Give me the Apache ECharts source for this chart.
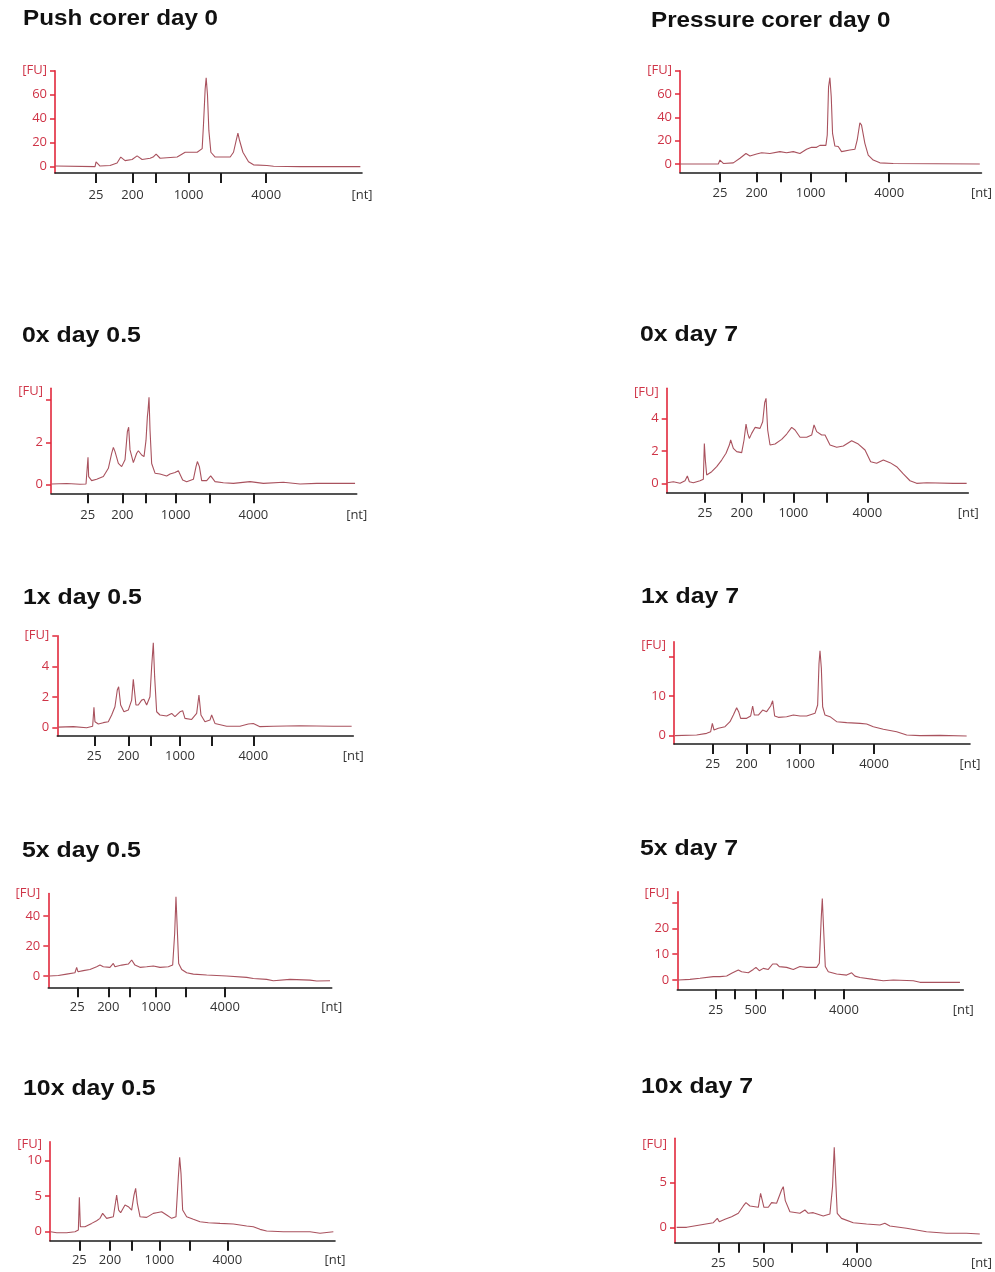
<!DOCTYPE html>
<html>
<head>
<meta charset="utf-8">
<script src="https://cdn.jsdelivr.net/npm/echarts@6/dist/echarts.min.js"></script>
<style>
html, body { margin: 0; padding: 0; background: #ffffff; }
#chart { width: 995px; height: 1272px; }
</style>
</head>
<body>
<div id="chart"></div>
<script>
// Electropherograms (Bioanalyzer-style): fluorescence [FU] against migration time (s),
// with the RNA ladder sizes (nt) marked on the time axis.

const panelTitles = [
  'Push corer day 0', 'Pressure corer day 0',
  '0x day 0.5', '0x day 7',
  '1x day 0.5', '1x day 7',
  '5x day 0.5', '5x day 7',
  '10x day 0.5', '10x day 7'
];

// Ladder fragment sizes (nt) and which of them carry a printed label
const ladderNt = [25, 200, 500, 1000, 2000, 4000];
const ladderShownStd = [25, 200, 1000, 4000];
const ladderShownAlt = [25, 500, 4000];

// Migration time (s) of each ladder fragment, per run
const ladderPushDay0     = [28.2, 35.47, 40.13, 46.67, 53.2, 62.2];
const ladderPressureDay0 = [28.0, 35.33, 40.2, 46.13, 53.2, 61.87];
const ladder0xDay05      = [27.33, 34.27, 39.0, 44.93, 51.8, 60.47];
const ladder0xDay7       = [27.67, 35.0, 39.33, 45.33, 52.0, 60.13];
const ladder1xDay05      = [27.4, 34.2, 38.67, 44.53, 50.87, 59.2];
const ladder1xDay7       = [27.73, 34.53, 39.2, 45.2, 51.67, 60.0];
const ladder5xDay05      = [25.8, 32.0, 36.2, 41.53, 47.53, 55.33];
const ladder5xDay7       = [27.67, 31.4, 35.67, 41.0, 47.53, 53.33];
const ladder10xDay05     = [25.87, 32.0, 36.33, 41.87, 47.87, 55.47];
const ladder10xDay7      = [28.67, 32.67, 37.67, 43.33, 50.33, 56.47];

// FU axis ticks and labelled values per run
const yTicks = [
  [0, 20, 40, 60, 80], [0, 20, 40, 60, 80],
  [0, 2, 4], [0, 2, 4],
  [0, 2, 4, 6], [0, 10, 20],
  [0, 20, 40], [0, 10, 20, 30],
  [0, 5, 10], [0, 5]
];
const yLabelled = [
  [0, 20, 40, 60], [0, 20, 40, 60],
  [0, 2], [0, 2, 4],
  [0, 2, 4], [0, 10],
  [0, 20, 40], [0, 10, 20],
  [0, 5, 10], [0, 5]
];
// Height on the FU axis where the unit tag "[FU]" sits
const fuTagAt = [80, 80, 4.43, 5.66, 6, 22.9, 55, 33.6, 12.35, 9.3];

// Traces: [time (s), fluorescence (FU)]
const tracePushDay0 = [
  [20, 0.5], [28.0, 0], [28.2, 4], [29.0, 0.5], [31.0, 1], [32.4, 3], [33.14, 8], [34.0, 5],
  [35.4, 6], [36.4, 9], [37.4, 6], [39.0, 7], [39.6, 8], [40.2, 10.5], [41.0, 7], [44.4, 8],
  [45.0, 9.5], [46.0, 12], [48.4, 12], [49.4, 15], [49.66, 35], [50.0, 65], [50.2, 74],
  [50.46, 60], [50.74, 30], [51.14, 12], [52.0, 8], [55.0, 8], [55.66, 12], [56.2, 22],
  [56.54, 28], [56.86, 22], [57.54, 12], [58.66, 4], [59.66, 1.5], [62.34, 1], [63.66, 0.3],
  [69.0, 0], [81.0, 0]
];
const tracePressureDay0 = [
  [20, 0], [27.67, 0], [28.0, 3.4], [28.67, 0.5], [30.67, 1], [32.0, 4.9], [33.2, 9],
  [34.0, 6.9], [35.33, 8.6], [36.33, 9.7], [38.0, 9], [40.0, 10.6], [41.33, 9.7], [42.67, 10.6],
  [44.0, 9], [45.33, 12.6], [46.33, 14.3], [47.33, 14.3], [48.0, 16], [49.2, 16], [49.47, 24.9],
  [49.73, 66], [50.0, 74], [50.27, 57.7], [50.53, 26.3], [51.0, 15.4], [51.67, 15], [52.33, 10.6],
  [54.0, 12], [55.0, 12.6], [55.47, 20.6], [56.0, 35.4], [56.33, 33.4], [57.0, 17.7], [57.67, 7.7],
  [58.67, 3.4], [60.0, 1], [62.67, 0.5], [63.0, 0], [80.0, 0]
];
const trace0xDay05 = [
  [20.13, 0.03], [23.13, 0.05], [25.8, 0.02], [27.0, 0.03], [27.27, 0.06], [27.4, 1.29],
  [27.53, 0.38], [28.13, 0.19], [29.13, 0.25], [30.47, 0.38], [31.47, 0.77], [32.13, 1.48],
  [32.47, 1.76], [32.8, 1.56], [33.47, 1.0], [34.13, 0.85], [34.8, 1.17], [35.27, 2.5],
  [35.53, 2.71], [35.8, 1.64], [36.47, 1.04], [37.13, 1.48], [37.47, 1.6], [38.13, 1.4],
  [38.6, 1.32], [39.0, 2.1], [39.27, 3.2], [39.4, 3.5], [39.6, 4.13], [39.8, 2.58], [40.13, 1.0],
  [40.8, 0.54], [41.8, 0.5], [43.13, 0.41], [43.8, 0.5], [44.8, 0.57], [45.47, 0.66], [45.8, 0.69],
  [46.33, 0.22], [47.13, 0.14], [48.47, 0.25], [49.0, 0.85], [49.27, 1.09], [49.67, 0.85],
  [50.13, 0.19], [51.13, 0.19], [51.93, 0.41], [52.8, 0.14], [54.47, 0.09], [56.47, 0.06],
  [59.8, 0.14], [62.47, 0.06], [66.47, 0.11], [69.8, 0.03], [73.13, 0.06], [76.47, 0.06], [80.8, 0.06]
];
const trace0xDay7 = [
  [20.13, 0.04], [21.33, 0.1], [22.67, 0], [23.67, 0.16], [24.13, 0.45], [24.53, 0.1], [25.33, 0.04],
  [26.67, 0.16], [27.33, 0.25], [27.53, 2.47], [27.73, 1.44], [28.0, 0.52], [29.0, 0.72], [30.0, 1.03],
  [31.0, 1.44], [31.87, 1.86], [32.53, 2.37], [32.8, 2.68], [33.33, 2.16], [34.0, 1.96], [35.0, 1.9],
  [35.47, 2.68], [35.87, 3.67], [36.2, 3.09], [36.53, 2.78], [37.0, 3.09], [37.67, 3.46], [38.67, 3.4],
  [39.2, 3.81], [39.6, 4.99], [39.87, 5.26], [40.2, 3.3], [40.67, 2.37], [41.67, 2.43], [43.0, 2.72],
  [44.0, 3.05], [45.0, 3.46], [45.67, 3.3], [46.67, 2.85], [48.0, 2.85], [49.0, 2.99], [49.47, 3.61],
  [50.0, 3.2], [51.0, 2.99], [51.67, 2.99], [52.67, 2.37], [54.0, 2.23], [55.33, 2.31], [57.0, 2.64],
  [58.33, 2.43], [59.67, 2.06], [60.8, 1.34], [62.0, 1.24], [63.33, 1.44], [64.67, 1.28], [66.0, 1.03],
  [67.33, 0.58], [68.67, 0.16], [70.0, 0], [72.0, 0.04], [77.33, 0], [80.0, 0]
];
const trace1xDay05 = [
  [20.2, 0.04], [23.2, 0.07], [25.87, 0], [27.07, 0.1], [27.33, 1.33], [27.53, 0.39], [28.2, 0.24],
  [29.2, 0.33], [30.2, 0.39], [30.87, 0.83], [31.53, 1.37], [32.0, 2.46], [32.27, 2.67], [32.67, 1.48],
  [33.33, 1.04], [34.2, 1.15], [34.87, 1.8], [35.2, 3.15], [35.47, 3.22], [35.73, 1.48], [36.2, 1.48],
  [36.87, 1.8], [37.33, 1.85], [37.87, 1.48], [38.53, 2.02], [38.87, 3.98], [39.2, 5.54], [39.47, 3.33],
  [39.87, 1.04], [40.53, 0.83], [41.87, 0.76], [42.87, 0.93], [43.53, 0.72], [44.53, 1.04], [45.07, 1.11],
  [45.53, 0.61], [46.87, 0.54], [47.87, 0.93], [48.33, 2.13], [48.73, 0.83], [49.53, 0.39], [50.53, 0.5],
  [50.87, 0.83], [51.53, 0.28], [53.87, 0.1], [56.53, 0.1], [58.2, 0.24], [59.2, 0.28], [60.53, 0.07],
  [63.2, 0.1], [68.53, 0.13], [75.2, 0.1], [78.87, 0.1]
];
const trace1xDay7 = [
  [20.2, 0], [24.53, 0.17], [26.53, 0.59], [27.33, 1.0], [27.67, 3.1], [28.0, 1.43], [28.87, 1.85],
  [30.2, 2.27], [31.2, 3.53], [31.87, 5.2], [32.53, 7.06], [32.93, 6.05], [33.33, 4.37], [34.53, 4.37],
  [35.33, 4.96], [35.73, 7.48], [36.07, 5.2], [36.87, 5.2], [37.73, 6.47], [38.53, 6.05], [39.33, 7.48],
  [39.73, 8.82], [40.13, 4.96], [40.87, 4.62], [42.53, 4.79], [43.87, 5.2], [45.2, 4.96], [46.53, 4.96],
  [48.2, 5.63], [48.73, 7.73], [49.0, 18.2], [49.2, 21.4], [49.47, 17], [49.73, 7.3], [50.2, 5.2],
  [51.2, 4.79], [52.53, 3.53], [54.53, 3.28], [57.2, 3.1], [58.53, 2.94], [59.87, 2.27], [61.87, 1.6],
  [64.53, 1.0], [66.53, 0.17], [69.2, 0], [73.2, 0.08], [78.53, -0.08]
];
const trace5xDay05 = [
  [20.2, 0], [22.0, 0.4], [23.67, 1.3], [25.33, 2.2], [25.67, 5.8], [25.93, 2.9], [27.0, 3.6],
  [28.33, 4.4], [29.67, 6.2], [30.33, 7.3], [31.0, 6.2], [32.33, 5.8], [33.0, 8.4], [33.33, 6.2],
  [34.67, 7.3], [36.0, 8.0], [36.67, 10.7], [37.33, 7.3], [38.33, 5.8], [39.67, 6.2], [41.0, 6.7],
  [42.33, 5.8], [44.0, 6.2], [44.87, 7.3], [45.27, 28.4], [45.53, 52.9], [45.8, 30.7], [46.07, 8.4],
  [46.67, 4.4], [47.67, 2.2], [49.0, 1.3], [51.67, 0.7], [55.67, 0], [59.67, -0.9], [61.0, -1.6],
  [63.67, -2.2], [65.0, -3.1], [68.33, -2.2], [72.33, -2.7], [73.67, -3.3], [76.33, -3.1]
];
const trace5xDay7 = [
  [20.2, 0], [22.53, 0.26], [24.53, 0.65], [27.2, 1.3], [28.53, 1.3], [29.87, 1.55], [30.87, 2.6],
  [32.2, 3.9], [32.87, 3.2], [34.2, 2.8], [35.2, 4.1], [35.73, 4.9], [36.4, 3.6], [37.2, 4.5],
  [38.2, 4.1], [39.07, 6.2], [39.87, 6.2], [40.4, 5.2], [41.87, 4.9], [43.2, 4.1], [44.53, 5.2],
  [45.87, 4.9], [47.87, 4.9], [48.4, 6.5], [48.8, 24.5], [49.0, 31.6], [49.27, 19.4], [49.6, 5.2],
  [50.2, 3.2], [51.87, 2.3], [53.87, 1.9], [54.87, 2.8], [55.53, 1.5], [56.53, 1.0], [59.2, 0.26],
  [61.2, -0.26], [63.2, 0], [67.2, -0.26], [68.53, -0.9], [71.87, -0.9], [76.53, -0.9]
];
const trace10xDay05 = [
  [20.13, 0], [21.33, -0.14], [23.33, -0.14], [25.0, 0], [25.67, 0.23], [25.87, 4.84], [26.07, 0.7],
  [27.0, 0.7], [28.33, 1.17], [29.33, 1.55], [30.0, 1.88], [30.53, 2.58], [31.33, 1.88], [32.67, 2.11],
  [33.33, 5.16], [33.73, 3.05], [34.13, 2.68], [35.0, 3.76], [35.67, 3.52], [36.33, 3.05], [36.8, 5.16],
  [37.13, 6.1], [37.47, 3.99], [38.0, 2.11], [39.33, 2.02], [40.67, 2.58], [41.33, 2.68], [42.33, 2.82],
  [43.33, 2.35], [44.33, 1.88], [45.2, 2.11], [45.67, 7.75], [45.93, 10.47], [46.2, 8.22], [46.53, 3.05],
  [47.33, 2.11], [48.67, 1.74], [50.0, 1.41], [51.67, 1.27], [54.0, 1.17], [56.67, 1.08], [59.33, 0.8],
  [60.67, 0.7], [62.0, 0.33], [63.33, 0.09], [66.67, 0], [72.0, 0], [74.0, -0.23], [76.67, 0]
];
const trace10xDay7 = [
  [20.33, 0], [22.33, 0], [25.0, 0.26], [27.67, 0.52], [28.47, 1.0], [28.87, 0.63], [30.0, 0.9],
  [31.33, 1.19], [32.67, 1.57], [33.67, 2.39], [34.2, 2.76], [35.0, 2.39], [36.67, 2.24], [37.13, 3.81],
  [37.47, 3.81], [37.8, 2.24], [38.67, 2.24], [39.33, 2.76], [40.33, 2.69], [41.33, 4.18], [41.67, 4.55],
  [42.07, 2.99], [43.0, 1.75], [45.0, 1.57], [46.0, 1.94], [46.67, 1.57], [47.67, 1.64], [49.67, 1.27],
  [51.0, 1.49], [51.53, 4.55], [51.87, 8.96], [52.13, 5.67], [52.47, 1.57], [53.33, 1.0], [55.67, 0.52],
  [58.33, 0.37], [61.0, 0.26], [62.0, 0.45], [63.0, 0.15], [66.33, -0.11], [70.33, -0.49], [74.33, -0.67],
  [78.33, -0.67], [81.0, -0.75]
];

const traces = [
  tracePushDay0, tracePressureDay0, trace0xDay05, trace0xDay7, trace1xDay05,
  trace1xDay7, trace5xDay05, trace5xDay7, trace10xDay05, trace10xDay7
];
const ladders = [
  ladderPushDay0, ladderPressureDay0, ladder0xDay05, ladder0xDay7, ladder1xDay05,
  ladder1xDay7, ladder5xDay05, ladder5xDay7, ladder10xDay05, ladder10xDay7
];
const ladderShown = [
  ladderShownStd, ladderShownStd, ladderShownStd, ladderShownStd, ladderShownStd,
  ladderShownStd, ladderShownStd, ladderShownAlt, ladderShownStd, ladderShownAlt
];

// Panel placement, axis extents, title anchor and label spacing
const layout = [
  { left: 55,    top: 70.7,   width: 307,   height: 102.3, yMin: -5.3,  yMax: 80,    tMax: 81.33, tx: 23,  ty: 19,   sx: 1.1,  lm: 16 },
  { left: 680,   top: 70.7,   width: 301.7, height: 101.6, yMin: -7.1,  yMax: 80,    tMax: 80.33, tx: 651, ty: 21,   sx: 1.1,  lm: 14 },
  { left: 51,    top: 388.3,  width: 305.7, height: 105,   yMin: -0.41, yMax: 4.55,  tMax: 81.13, tx: 22,  ty: 336,  sx: 1.13, lm: 15 },
  { left: 666.7, top: 388.3,  width: 301.6, height: 104.4, yMin: -0.58, yMax: 5.88,  tMax: 80.33, tx: 640, ty: 335,  sx: 1.13, lm: 14 },
  { left: 57.3,  top: 635.7,  width: 296,   height: 100.3, yMin: -0.54, yMax: 6,     tMax: 79.2,  tx: 23,  ty: 598,  sx: 1.13, lm: 14 },
  { left: 674,   top: 641.7,  width: 296,   height: 102.3, yMin: -2.1,  yMax: 23.7,  tMax: 79.2,  tx: 641, ty: 597,  sx: 1.13, lm: 14 },
  { left: 48.3,  top: 893.5,  width: 283.4, height: 93.8,  yMin: -7.5,  yMax: 55,    tMax: 76.67, tx: 22,  ty: 851,  sx: 1.13, lm: 13 },
  { left: 677.3, top: 891.7,  width: 286,   height: 97.6,  yMin: -3.6,  yMax: 34.2,  tMax: 77.2,  tx: 640, ty: 849,  sx: 1.13, lm: 14 },
  { left: 50,    top: 1141.7, width: 285,   height: 99,    yMin: -1.27, yMax: 12.68, tMax: 77,    tx: 23,  ty: 1089, sx: 1.13, lm: 13 },
  { left: 675,   top: 1138.3, width: 306.7, height: 104.4, yMin: -1.72, yMax: 9.96,  tMax: 81.33, tx: 641, ty: 1087, sx: 1.13, lm: 14 }
];

const RED_AXIS = '#e1283b';
const RED_TEXT = '#cf3447';
const INK = '#1c1c1c';
const TRACE = '#a9525e';
const LABEL_FONT = '"Open Sans", "DejaVu Sans", sans-serif';

const grid = [], xAxis = [], yAxis = [], series = [], graphic = [];

panelTitles.forEach((title, i) => {
  const L = layout[i];
  const ladder = ladders[i];
  const shown = ladderShown[i];
  const fuAt = fuTagAt[i];

  grid.push({ left: L.left, top: L.top, width: L.width, height: L.height });

  const shownTimes = ladder.filter((t, k) => shown.indexOf(ladderNt[k]) >= 0);

  xAxis.push({
    gridIndex: i, type: 'value', min: 20, max: L.tMax,
    axisLine: { show: true, onZero: false, lineStyle: { color: INK, width: 1.6 } },
    axisTick: { show: true, customValues: ladder, length: 10, lineStyle: { color: INK, width: 2 } },
    axisLabel: {
      customValues: shownTimes.concat([L.tMax]),
      formatter: v => {
        if (Math.abs(v - L.tMax) < 1e-6) return '[nt]';
        const k = ladder.findIndex(t => Math.abs(t - v) < 1e-6);
        return k >= 0 ? String(ladderNt[k]) : '';
      },
      margin: L.lm, color: '#333333', fontSize: 13, fontFamily: LABEL_FONT, hideOverlap: false
    },
    splitLine: { show: false }
  });

  yAxis.push({
    gridIndex: i, type: 'value', min: L.yMin, max: L.yMax,
    axisLine: { show: true, onZero: false, lineStyle: { color: RED_AXIS, width: 1.6 } },
    axisTick: { show: true, customValues: yTicks[i], length: 5, lineStyle: { color: RED_AXIS, width: 1.5 } },
    axisLabel: {
      customValues: yLabelled[i].concat([fuAt]),
      formatter: v => (Math.abs(v - fuAt) < 1e-6 ? '[FU]' : String(v)),
      margin: 8, color: RED_TEXT, fontSize: 13, fontFamily: LABEL_FONT, hideOverlap: false
    },
    splitLine: { show: false }
  });

  series.push({
    type: 'line', name: title, xAxisIndex: i, yAxisIndex: i,
    data: traces[i], showSymbol: false, symbol: 'none', smooth: false,
    lineStyle: { color: TRACE, width: 1.1 }, silent: true, clip: true
  });

  graphic.push({
    type: 'text', x: L.tx, y: L.ty, scaleX: L.sx,
    style: {
      text: title, fill: '#111111',
      font: 'bold 22px "Liberation Sans", Arial, sans-serif',
      align: 'left', verticalAlign: 'middle'
    }
  });
});

const chart = echarts.init(document.getElementById('chart'), null, { renderer: 'canvas' });
chart.setOption({
  animation: false,
  backgroundColor: '#ffffff',
  grid, xAxis, yAxis, series, graphic
});
</script>
</body>
</html>
